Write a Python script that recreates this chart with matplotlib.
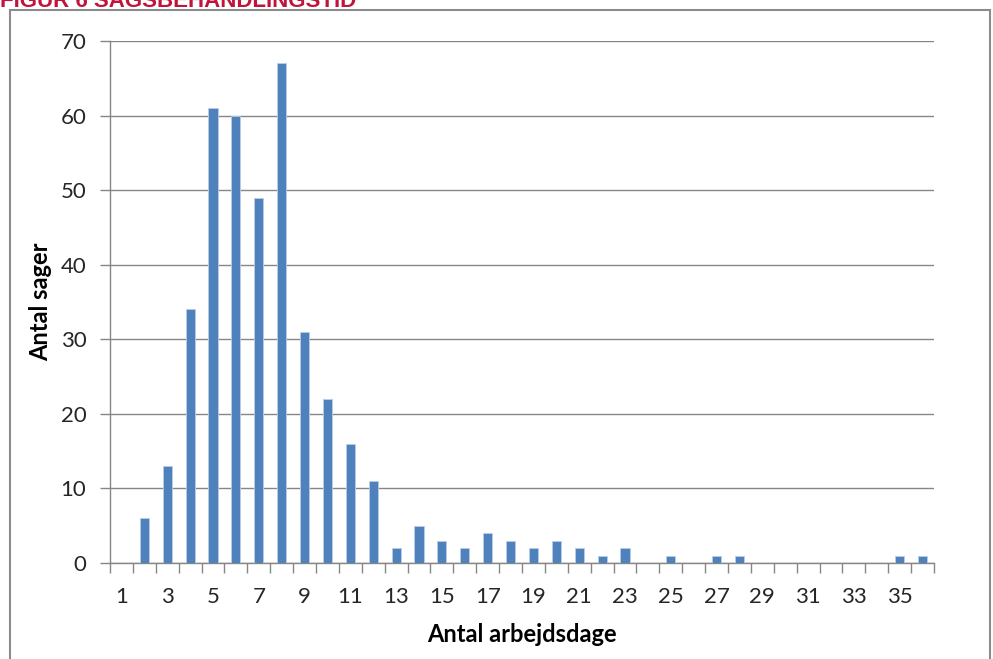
import matplotlib
matplotlib.use("Agg")
import matplotlib.pyplot as plt
from matplotlib.patches import Rectangle

days = list(range(1, 37))
counts = [0, 6, 13, 34, 61, 60, 49, 67, 31, 22, 16, 11, 2, 5, 3, 2, 4, 3, 2, 3,
          2, 1, 2, 0, 1, 0, 1, 1, 0, 0, 0, 0, 0, 0, 1, 1]
xticklabels = [str(d) if d % 2 == 1 else "" for d in days]
yticks = [0, 10, 20, 30, 40, 50, 60, 70]

W, H = 993, 659
fig = plt.figure(figsize=(W / 100, H / 100), dpi=100)
plt.rcParams['font.family'] = ['Lato', 'DejaVu Sans']

ax = fig.add_axes([110 / W, 1 - 563 / H, (934 - 110) / W, (563 - 41) / H])
ax.bar(days, counts, width=0.4, color="#4F81BD", edgecolor="#B9CDE5", linewidth=0.6, zorder=3)
ax.set_xlim(0.5, 36.5)
ax.set_ylim(0, 70)
ax.set_yticks(yticks)
ax.set_yticklabels([str(v) for v in yticks], fontsize=16, color="#262626")
ax.set_xticks(days)
ax.set_xticklabels(xticklabels, fontsize=16, color="#262626")
ax.set_xticks([d + 0.5 for d in range(0, 37)], minor=True)
ax.tick_params(axis="x", which="major", length=0, pad=17)
ax.tick_params(axis="x", which="minor", length=7, color="#868686", width=1)
ax.tick_params(axis="y", length=7, color="#868686", width=1, pad=10)
ax.yaxis.grid(True, color="#868686", linewidth=1, zorder=0)
for s in ["top", "right"]:
    ax.spines[s].set_visible(False)
for s in ["left", "bottom"]:
    ax.spines[s].set_color("#868686")
    ax.spines[s].set_linewidth(1)

ax.set_ylabel("Antal sager", fontsize=17, fontweight="bold", labelpad=6, color="#000000")
ax.set_xlabel("Antal arbejdsdage", fontsize=17, fontweight="bold", labelpad=12, color="#000000")

fig.patches.append(Rectangle((10 / W, -0.1), (990 - 10) / W, 1.1 - 10 / H,
                             transform=fig.transFigure, fill=False,
                             edgecolor="#8C8C8C", linewidth=1.5))
fig.text(0 / W, 1 - 7 / H, "FIGUR 6 SAGSBEHANDLINGSTID", color="#C0143C",
         fontsize=16, fontweight="bold", ha="left", va="baseline",
         family=["Liberation Sans", "DejaVu Sans"])

fig.savefig("out.png", dpi=100)
